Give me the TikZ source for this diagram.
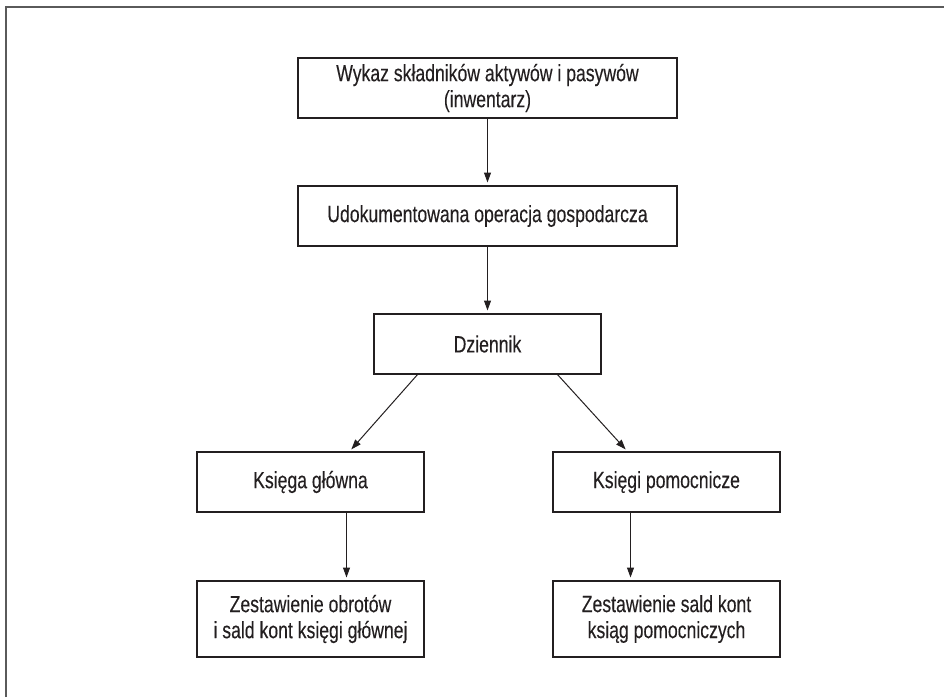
\documentclass[tikz,border=0pt]{standalone}
\usepackage{fontspec}
\setmainfont[FakeStretch=0.75,FakeBold=0.2]{Liberation Sans}
\usetikzlibrary{arrows.meta,calc}
\definecolor{ink}{HTML}{231F20}
\definecolor{framegray}{HTML}{5A5A5A}
\tikzset{
  box/.style={draw=ink, line width=1.2pt, text=ink, align=center,
    font=\fontsize{23.5}{26}\selectfont, inner sep=0pt, outer sep=0pt},
  wide/.style={minimum width=379pt, minimum height=60pt},
  mid/.style={minimum width=227pt, minimum height=60pt},
  tall/.style={minimum width=227pt, minimum height=76pt},
  conn/.style={draw=ink, line width=1pt, -{Triangle[length=10pt,width=7pt]}, shorten >=3.5pt},
}
\begin{document}
\begin{tikzpicture}[x=1pt,y=-1pt]
\useasboundingbox (0,0) rectangle (944,697);
\draw[framegray, line width=1.6pt] (6,697) -- (6,7) -- (944,7);
\node[box,wide] (b1) at (487.5,88) {Wykaz składników aktywów i pasywów\\(inwentarz)};
\node[box,wide] (b2) at (487.5,216) {Udokumentowana operacja gospodarcza};
\node[box,mid] (b3) at (487.5,344) {Dziennik};
\node[box,mid] (b4) at (310.5,482) {Księga główna};
\node[box,mid] (b5) at (666.5,482) {Księgi pomocnicze};
\node[box,tall] (b6) at (310.5,619) {Zestawienie obrotów\\i sald kont księgi głównej};
\node[box,tall] (b7) at (666.5,619) {Zestawienie sald kont\\ksiąg pomocniczych};
\draw[conn] (b1) -- (b2);
\draw[conn] (b2) -- (b3);
\draw[conn] ($(b3.south)+(-69.5,0)$) -- ($(b4.north)+(38.5,0)$);
\draw[conn] ($(b3.south)+(69.5,0)$) -- ($(b5.north)+(-38.5,0)$);
\draw[conn] ($(b4.south)+(36,0)$) -- ($(b6.north)+(36,0)$);
\draw[conn] ($(b5.south)+(-36,0)$) -- ($(b7.north)+(-36,0)$);
\end{tikzpicture}
\end{document}
